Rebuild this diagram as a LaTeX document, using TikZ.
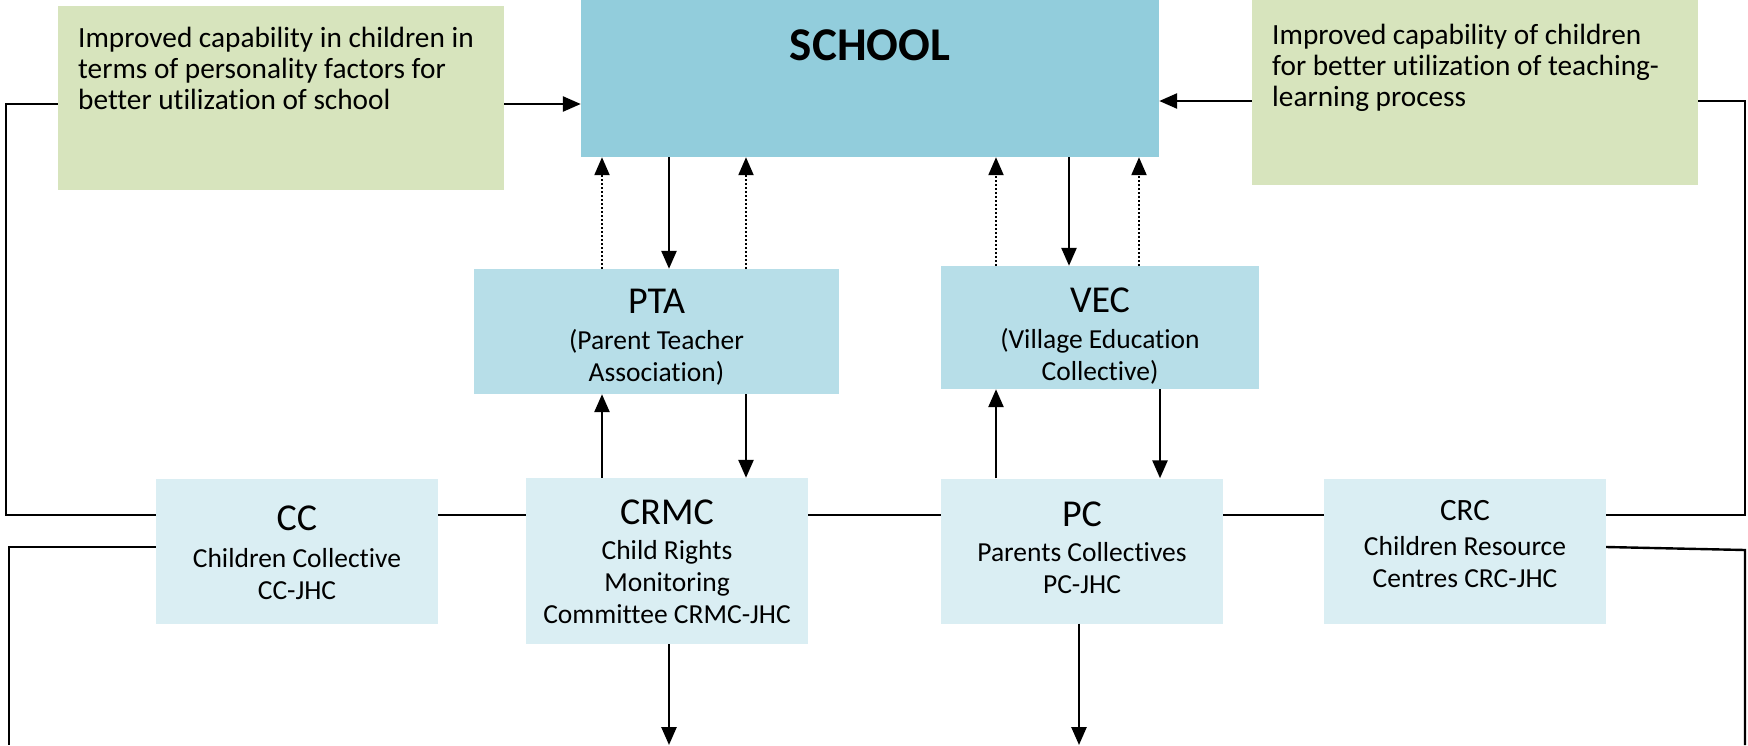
\documentclass[tikz,border=0pt]{standalone}
\usepackage{fontspec}
\setmainfont{Carlito}[Ligatures=NoCommon]
\usetikzlibrary{arrows.meta}
\definecolor{schoolc}{HTML}{92CDDC}
\definecolor{midc}{HTML}{B7DEE8}
\definecolor{lowc}{HTML}{DAEEF3}
\definecolor{greenc}{HTML}{D7E4BD}
\newcommand{\titlef}{\fontsize{38}{32}\selectfont}
\newcommand{\subf}{\fontsize{27.5}{32}\selectfont}
\tikzset{
  boxs/.style={inner sep=0pt, align=center, font=\subf},
  arr/.style={line width=2.6pt, -{Triangle[width=15pt,length=18pt]}},
  darr/.style={line width=2.2pt, dash pattern=on 2pt off 2pt, -{Triangle[width=15pt,length=18pt]}},
  fline/.style={line width=2.4pt},
  gtext/.style={anchor=north west, inner sep=0pt, align=left, font=\fontsize{29.3}{31.2}\selectfont}
}
\begin{document}
\begin{tikzpicture}[x=1pt,y=-1pt]
\useasboundingbox (0,0) rectangle (1748,745);
% boxes
\node[boxs, fill=greenc, minimum width=446pt, minimum height=184pt] (lg) at (281,98) {};
\node[gtext] (lgt) at (78,26.5) {Improved capability in children in\\terms of personality factors for\\better utilization of school};
\node[boxs, fill=greenc, minimum width=446pt, minimum height=185pt] (rg) at (1475,92.5) {};
\node[gtext] (rgt) at (1272,23.5) {Improved capability of children\\for better utilization of teaching-\\learning process};
\node[boxs, fill=schoolc, minimum width=578pt, minimum height=157pt] (school) at (870,78.5) {};
\node[inner sep=0pt, font=\fontsize{47}{50}\selectfont\bfseries] (schoolt) at (870,45) {SCHOOL};

\node[boxs, fill=midc, minimum width=365pt, minimum height=125pt] (pta) at (656.5,331.5) {};
\node[boxs] (ptat) at ([yshift=-6pt]pta.center) {{\titlef PTA}\\[4pt](Parent Teacher\\Association)};
\node[boxs, fill=midc, minimum width=318pt, minimum height=123pt] (vec) at (1100,327.5) {};
\node[boxs] (vect) at ([yshift=-9pt]vec.center) {{\titlef VEC}\\[4pt](Village Education\\Collective)};
\node[boxs, fill=lowc, minimum width=282pt, minimum height=145pt] (cc) at (297,551) {};
\node[boxs] (cct) at ([yshift=-2pt]cc.center) {{\titlef CC}\\[5pt]Children Collective\\CC-JHC};
\node[boxs, fill=lowc, minimum width=282pt, minimum height=166pt] (crmc) at (667,561) {};
\node[boxs] (crmct) at ([yshift=-1pt]crmc.center) {{\titlef CRMC}\\[3pt]Child Rights\\Monitoring\\Committee CRMC-JHC};
\node[boxs, fill=lowc, minimum width=282pt, minimum height=145pt] (pc) at (1082,551) {};
\node[boxs] (pct) at ([yshift=3pt]pc.center) {{\titlef PC}\\[3pt]Parents Collectives\\PC-JHC};
\node[boxs, fill=lowc, minimum width=282pt, minimum height=145pt] (crc) at (1465,551) {};
\node[boxs] (crct) at ([yshift=7pt]crc.center) {{\fontsize{31}{32}\selectfont CRC}\\[3pt]Children Resource\\Centres CRC-JHC};

% coordinates
\coordinate (L1) at (6,104);
\coordinate (L2) at (6,515);
\coordinate (L3) at (9,547);
\coordinate (L4) at (9,745);
\coordinate (R1) at (1745,101);
\coordinate (R2) at (1745,515);
\coordinate (R3) at (1745,550);
\coordinate (R4) at (1745,745);
\coordinate (bot1) at (669,745);
\coordinate (bot2) at (1079,745);

% green to school
\draw[arr] (lg.east |- L1) -- (school.west |- L1);
\draw[arr] (rg.west |- R1) -- (school.east |- R1);

% frame lines
\draw[fline] (lg.west |- L1) -- (L1) -- (L2) -- (cc.west |- L2);
\draw[fline] (cc.west |- L3) -- (L3) -- (L4);
\draw[fline] (rg.east |- R1) -- (R1) -- (R2) -- (crc.east |- R2);
\draw[fline] (crc.east |- L3) -- (R3) -- (R4);
\draw[fline] (cc.east |- L2) -- (crmc.west |- L2);
\draw[fline] (crmc.east |- L2) -- (pc.west |- L2);
\draw[fline] (pc.east |- L2) -- (crc.west |- L2);

% school <-> PTA
\draw[arr] ([xshift=12.5pt]pta.north |- school.south) -- ([xshift=12.5pt]pta.north);
\draw[darr] ([xshift=-54.5pt]pta.north) -- ([xshift=-54.5pt]pta.north |- school.south);
\draw[darr] ([xshift=89.5pt]pta.north) -- ([xshift=89.5pt]pta.north |- school.south);
% school <-> VEC
\draw[arr] ([xshift=-31pt]vec.north |- school.south) -- ([xshift=-31pt]vec.north);
\draw[darr] ([xshift=-104pt]vec.north) -- ([xshift=-104pt]vec.north |- school.south);
\draw[darr] ([xshift=39pt]vec.north) -- ([xshift=39pt]vec.north |- school.south);
% PTA <-> CRMC
\draw[arr] ([xshift=-65pt]crmc.north) -- ([xshift=-65pt]crmc.north |- pta.south);
\draw[arr] ([xshift=79pt]crmc.north |- pta.south) -- ([xshift=79pt]crmc.north);
% VEC <-> PC
\draw[arr] ([xshift=-86pt]pc.north) -- ([xshift=-86pt]pc.north |- vec.south);
\draw[arr] ([xshift=78pt]pc.north |- vec.south) -- ([xshift=78pt]pc.north);
% bottom arrows
\draw[arr] (crmc.south -| bot1) -- (bot1);
\draw[arr] (pc.south -| bot2) -- (bot2);
\end{tikzpicture}
\end{document}
